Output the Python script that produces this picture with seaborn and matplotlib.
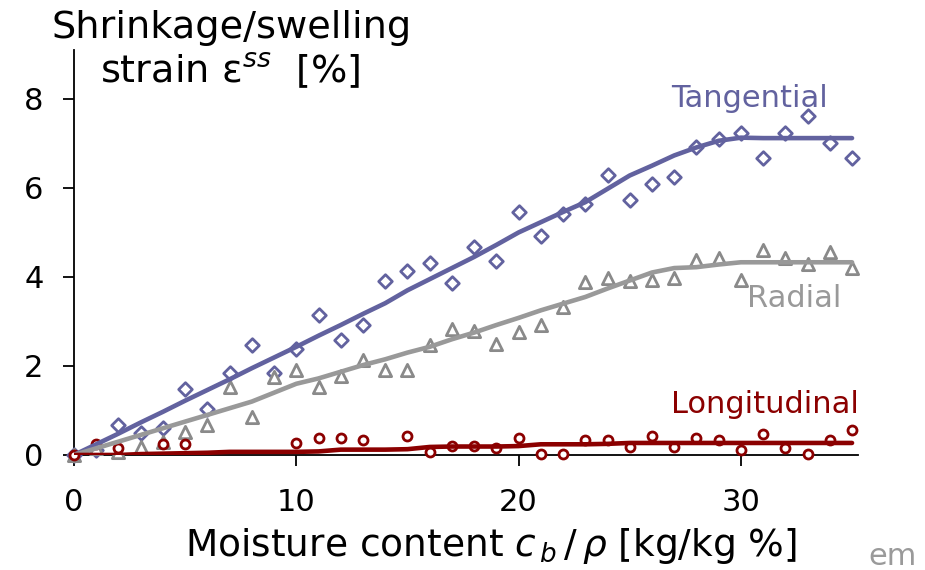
import pandas as pd
import seaborn as sns
import matplotlib.pyplot as plt

# measured points (moisture content in %, strain in %)
moisture = list(range(36))
tangential_pts = [0, 0.12, 0.67, 0.49, 0.6, 1.48, 1.03, 1.85, 2.47, 1.85, 2.37, 3.14,
                  2.59, 2.91, 3.9, 4.13, 4.31, 3.86, 4.67, 4.35, 5.47, 4.93, 5.42, 5.64,
                  6.28, 5.74, 6.09, 6.24, 6.91, 7.1, 7.23, 6.67, 7.23, 7.62, 7.0, 6.67]
radial_pts = [0, 0.15, 0.07, 0.19, 0.3, 0.52, 0.67, 1.52, 0.85, 1.76, 1.92, 1.52,
              1.77, 2.13, 1.92, 1.92, 2.47, 2.82, 2.79, 2.5, 2.76, 2.91, 3.33, 3.89,
              3.98, 3.9, 3.94, 3.98, 4.39, 4.43, 3.94, 4.61, 4.43, 4.3, 4.56, 4.2]
long_x = [0, 1, 2, 4, 5, 10, 11, 12, 13, 15, 16, 17, 18, 19, 20, 21, 22, 23, 24, 25,
          26, 27, 28, 29, 30, 31, 32, 33, 34, 35]
long_pts = [0, 0.25, 0.15, 0.25, 0.25, 0.28, 0.38, 0.38, 0.34, 0.43, 0.06, 0.2, 0.2,
            0.15, 0.39, 0.02, 0.02, 0.34, 0.34, 0.19, 0.43, 0.19, 0.39, 0.34, 0.11,
            0.47, 0.15, 0.02, 0.34, 0.56]

# fitted curves
tangential_fit = [0, 0.24, 0.48, 0.73, 0.97, 1.22, 1.46, 1.7, 1.95, 2.19, 2.43, 2.68,
                  2.92, 3.17, 3.41, 3.7, 3.95, 4.2, 4.45, 4.72, 5.0, 5.23, 5.46, 5.68,
                  5.98, 6.28, 6.5, 6.73, 6.91, 7.06, 7.13, 7.12, 7.12, 7.12, 7.12, 7.12]
radial_fit = [0, 0.15, 0.3, 0.45, 0.6, 0.75, 0.9, 1.05, 1.2, 1.4, 1.6, 1.72, 1.87,
              2.02, 2.15, 2.3, 2.43, 2.6, 2.75, 2.92, 3.08, 3.25, 3.4, 3.55, 3.74, 3.92,
              4.1, 4.2, 4.22, 4.28, 4.33, 4.33, 4.33, 4.33, 4.33, 4.33]
long_fit = [0, 0, 0, 0.02, 0.03, 0.04, 0.05, 0.07, 0.07, 0.07, 0.07, 0.08, 0.12, 0.12,
            0.12, 0.13, 0.18, 0.19, 0.19, 0.19, 0.2, 0.24, 0.24, 0.24, 0.25, 0.27,
            0.27, 0.27, 0.27, 0.27, 0.27, 0.27, 0.27, 0.27, 0.27, 0.27]

c_tan = '#62629f'
c_rad = '#999999'
c_rad_pts = '#8a8a8a'
c_long = '#8b0000'

sns.set_style('ticks')
plt.rcParams['font.family'] = ['DejaVu Sans']
plt.rcParams['mathtext.fontset'] = 'dejavusans'
plt.rcParams['text.color'] = 'black'

fig = plt.figure(figsize=(9.25, 5.7), dpi=100)
ax = fig.add_axes([0.08, 0.2018, 0.8476, 0.7105])

# points
for xs, ys, col, mk, ms in [(moisture, tangential_pts, c_tan, 'D', 48),
                            (moisture, radial_pts, c_rad_pts, '^', 78),
                            (long_x, long_pts, c_long, 'o', 42)]:
    sns.scatterplot(x=xs, y=ys, ax=ax, marker=mk, s=ms, facecolor='white',
                    edgecolor=col, linewidth=2, zorder=3)
for coll in ax.collections:
    coll.set_clip_on(False)

# fitted lines
for ys, col in [(tangential_fit, c_tan), (radial_fit, c_rad), (long_fit, c_long)]:
    sns.lineplot(x=moisture, y=ys, ax=ax, color=col, linewidth=3.3, zorder=4)

ax.set_xlim(0, 35.27)
ax.set_ylim(0, 9.1)
ax.set_xticks([0, 10, 20, 30])
ax.set_yticks([0, 2, 4, 6, 8])
ax.tick_params(axis='both', labelsize=22, length=8, width=1.3, direction='out',
               colors='black', labelcolor='black')
ax.tick_params(axis='x', pad=16)
ax.tick_params(axis='y', pad=14)
for side in ['top', 'right']:
    ax.spines[side].set_visible(False)
for side in ['left', 'bottom']:
    ax.spines[side].set_linewidth(1.3)
    ax.spines[side].set_color('black')

ax.text(30.4, 8.0, 'Tangential', color=c_tan, fontsize=22, ha='center', va='center')
ax.text(32.4, 3.52, 'Radial', color=c_rad, fontsize=22, ha='center', va='center')
ax.text(31.1, 1.14, 'Longitudinal', color=c_long, fontsize=22, ha='center', va='center')

fig.text(52 / 925, 1 - 38 / 570, 'Shrinkage/swelling', fontsize=27.5, va='baseline')
fig.text(100 / 925, 1 - 82 / 570, r'strain ε$^{ss}$  [%]', fontsize=27.5,
         va='baseline')
fig.text(491 / 925, 1 - 556 / 570, r'Moisture content $c_{\,b}\,/\,\rho$ [kg/kg %]',
         fontsize=27, ha='center', va='baseline')
fig.text(868 / 925, 1 - 565 / 570, 'em', fontsize=22, color='#9a9a9a', va='baseline')

plt.savefig('out.png', dpi=100)
plt.close()
